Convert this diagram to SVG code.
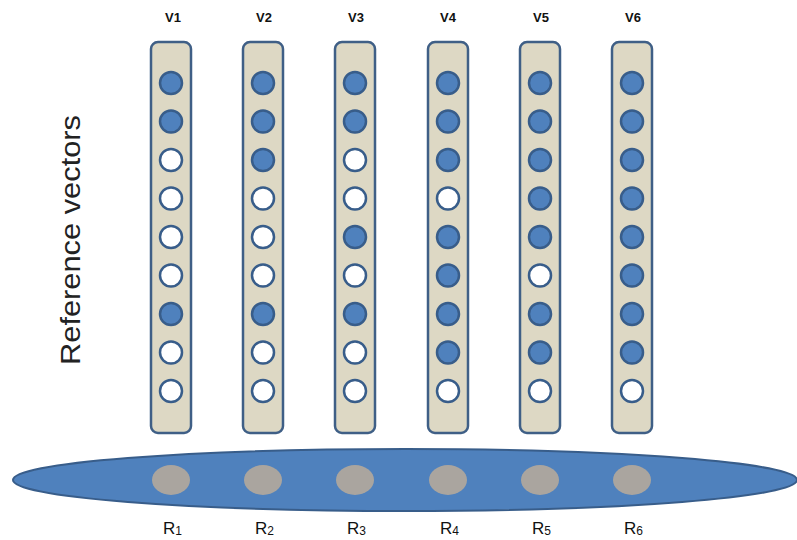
<svg xmlns="http://www.w3.org/2000/svg" width="797" height="540" viewBox="0 0 797 540">
<style>
.col{fill:#ddd8c4;stroke:#3f5f86;stroke-width:2.5}
.on{fill:#4f81bd;stroke:#385d8a;stroke-width:2.5}
.off{fill:#ffffff;stroke:#385d8a;stroke-width:2.5}
.vl{font-family:"Liberation Sans",Arial,sans-serif;font-weight:bold;font-size:13px;fill:#111;text-anchor:middle}
.rl{font-family:"Liberation Sans",Arial,sans-serif;font-size:17px;fill:#111}
.sub{font-size:12px}
.ref{fill:#aaa59f}
</style>
<rect width="797" height="540" fill="#ffffff"/>
<text transform="translate(80,240) rotate(-90)" font-family="Liberation Sans, Arial, sans-serif" font-size="27" fill="#222" text-anchor="middle" textLength="250" lengthAdjust="spacingAndGlyphs">Reference vectors</text>
<g id="V1">
<text class="vl" x="173" y="22">V1</text>
<rect class="col" x="151" y="42" width="40" height="391" rx="7"/>
<circle class="on" cx="171" cy="83" r="11"/><circle class="on" cx="171" cy="121.5" r="11"/><circle class="off" cx="171" cy="160" r="11"/><circle class="off" cx="171" cy="198.5" r="11"/><circle class="off" cx="171" cy="237" r="11"/><circle class="off" cx="171" cy="275.5" r="11"/><circle class="on" cx="171" cy="314" r="11"/><circle class="off" cx="171" cy="352.5" r="11"/><circle class="off" cx="171" cy="391" r="11"/>
</g>
<g id="V2">
<text class="vl" x="264" y="22">V2</text>
<rect class="col" x="243" y="42" width="40" height="391" rx="7"/>
<circle class="on" cx="263" cy="83" r="11"/><circle class="on" cx="263" cy="121.5" r="11"/><circle class="on" cx="263" cy="160" r="11"/><circle class="off" cx="263" cy="198.5" r="11"/><circle class="off" cx="263" cy="237" r="11"/><circle class="off" cx="263" cy="275.5" r="11"/><circle class="on" cx="263" cy="314" r="11"/><circle class="off" cx="263" cy="352.5" r="11"/><circle class="off" cx="263" cy="391" r="11"/>
</g>
<g id="V3">
<text class="vl" x="356" y="22">V3</text>
<rect class="col" x="335" y="42" width="40" height="391" rx="7"/>
<circle class="on" cx="355" cy="83" r="11"/><circle class="on" cx="355" cy="121.5" r="11"/><circle class="off" cx="355" cy="160" r="11"/><circle class="off" cx="355" cy="198.5" r="11"/><circle class="on" cx="355" cy="237" r="11"/><circle class="off" cx="355" cy="275.5" r="11"/><circle class="on" cx="355" cy="314" r="11"/><circle class="off" cx="355" cy="352.5" r="11"/><circle class="off" cx="355" cy="391" r="11"/>
</g>
<g id="V4">
<text class="vl" x="448" y="22">V4</text>
<rect class="col" x="428" y="42" width="40" height="391" rx="7"/>
<circle class="on" cx="448" cy="83" r="11"/><circle class="on" cx="448" cy="121.5" r="11"/><circle class="on" cx="448" cy="160" r="11"/><circle class="off" cx="448" cy="198.5" r="11"/><circle class="on" cx="448" cy="237" r="11"/><circle class="on" cx="448" cy="275.5" r="11"/><circle class="on" cx="448" cy="314" r="11"/><circle class="on" cx="448" cy="352.5" r="11"/><circle class="off" cx="448" cy="391" r="11"/>
</g>
<g id="V5">
<text class="vl" x="541" y="22">V5</text>
<rect class="col" x="520" y="42" width="40" height="391" rx="7"/>
<circle class="on" cx="540" cy="83" r="11"/><circle class="on" cx="540" cy="121.5" r="11"/><circle class="on" cx="540" cy="160" r="11"/><circle class="on" cx="540" cy="198.5" r="11"/><circle class="on" cx="540" cy="237" r="11"/><circle class="off" cx="540" cy="275.5" r="11"/><circle class="on" cx="540" cy="314" r="11"/><circle class="on" cx="540" cy="352.5" r="11"/><circle class="off" cx="540" cy="391" r="11"/>
</g>
<g id="V6">
<text class="vl" x="633" y="22">V6</text>
<rect class="col" x="612" y="42" width="40" height="391" rx="7"/>
<circle class="on" cx="632" cy="83" r="11"/><circle class="on" cx="632" cy="121.5" r="11"/><circle class="on" cx="632" cy="160" r="11"/><circle class="on" cx="632" cy="198.5" r="11"/><circle class="on" cx="632" cy="237" r="11"/><circle class="on" cx="632" cy="275.5" r="11"/><circle class="on" cx="632" cy="314" r="11"/><circle class="on" cx="632" cy="352.5" r="11"/><circle class="off" cx="632" cy="391" r="11"/>
</g>
<g id="bar">
<ellipse cx="405" cy="480" rx="392" ry="31" fill="#4f81bd" stroke="#385d8a" stroke-width="2"/>
<ellipse class="ref" cx="171" cy="480" rx="19" ry="15"/>
<ellipse class="ref" cx="263" cy="480" rx="19" ry="15"/>
<ellipse class="ref" cx="355" cy="480" rx="19" ry="15"/>
<ellipse class="ref" cx="448" cy="480" rx="19" ry="15"/>
<ellipse class="ref" cx="540" cy="480" rx="19" ry="15"/>
<ellipse class="ref" cx="632" cy="480" rx="19" ry="15"/>
</g>
<g id="labels">
<text class="rl" x="163" y="534">R<tspan class="sub" dy="1">1</tspan></text>
<text class="rl" x="255" y="534">R<tspan class="sub" dy="1">2</tspan></text>
<text class="rl" x="347" y="534">R<tspan class="sub" dy="1">3</tspan></text>
<text class="rl" x="440" y="534">R<tspan class="sub" dy="1">4</tspan></text>
<text class="rl" x="532" y="534">R<tspan class="sub" dy="1">5</tspan></text>
<text class="rl" x="624" y="534">R<tspan class="sub" dy="1">6</tspan></text>
</g>
</svg>
